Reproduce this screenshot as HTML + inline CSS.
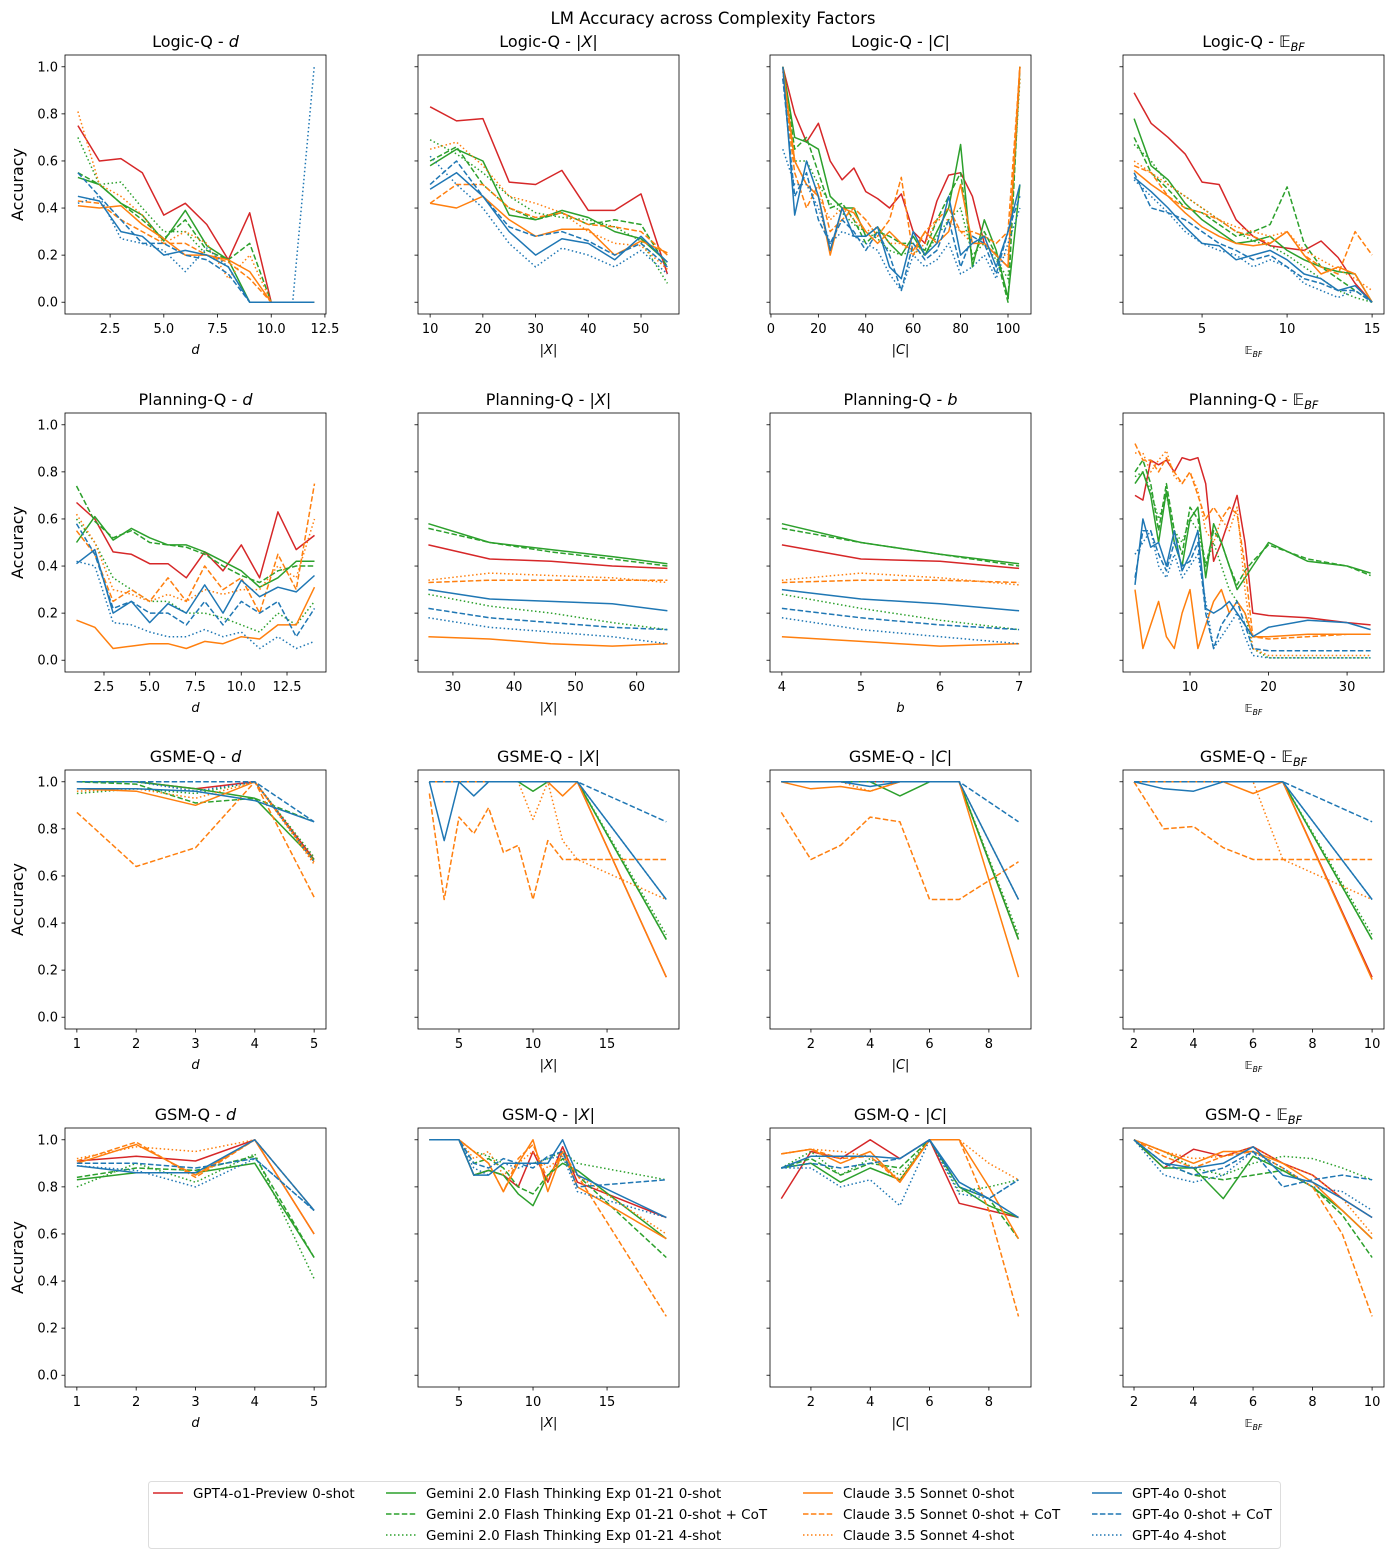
<!DOCTYPE html>
<html><head><meta charset="utf-8"><style>
body{margin:0;background:#fff}
svg text{font-family:"DejaVu Sans","Liberation Sans",sans-serif;fill:#000}
</style></head><body>
<svg id="chart" width="1393" height="1558" viewBox="0 0 1393 1558" xmlns="http://www.w3.org/2000/svg">
<rect width="1393" height="1558" fill="#fff"/>
<text x="713" y="24" font-size="16.5" text-anchor="middle">LM Accuracy across Complexity Factors</text>
<g id="panels"></g>
<g id="legend">
<rect x="148.5" y="1481.5" width="1132" height="67" fill="#fff" stroke="#ddd" stroke-width="1" rx="3"/>
</g>
</svg>
<script>
const seriesNames=["GPT4-o1-Preview 0-shot","Gemini 2.0 Flash Thinking Exp 01-21 0-shot","Gemini 2.0 Flash Thinking Exp 01-21 0-shot + CoT","Gemini 2.0 Flash Thinking Exp 01-21 4-shot","Claude 3.5 Sonnet 0-shot","Claude 3.5 Sonnet 0-shot + CoT","Claude 3.5 Sonnet 4-shot","GPT-4o 0-shot","GPT-4o 0-shot + CoT","GPT-4o 4-shot"];
const rowNames=["Logic-Q","Planning-Q","GSME-Q","GSM-Q"];
const yTicks=[0,0.2,0.4,0.6,0.8,1.0];
const yTickLabels=["0.0","0.2","0.4","0.6","0.8","1.0"];

const logicD_x=[1,2,3,4,5,6,7,8,9,10,11,12];
const logicD_y=[[.75,.60,.61,.55,.37,.42,.33,.18,.38,0,0,0],[.53,.50,.42,.37,.26,.39,.24,.18,0,0,0,0],[.55,.50,.42,.35,.27,.35,.22,.18,.25,0,0,0],[.70,.50,.51,.40,.30,.30,.20,.15,0,0,0,0],[.41,.40,.41,.33,.27,.20,.20,.18,.13,0,0,0],[.43,.42,.35,.30,.25,.25,.20,.17,.10,0,0,0],[.81,.50,.45,.37,.25,.30,.25,.10,.20,0,0,0],[.45,.43,.30,.28,.20,.22,.20,.15,0,0,0,0],[.55,.45,.35,.25,.25,.20,.18,.12,0,0,0,0],[.42,.45,.27,.25,.22,.13,.23,.15,0,0,0,1.0]];
const logicX_x=[10,15,20,25,30,35,40,45,50,55];
const logicX_y=[[.83,.77,.78,.51,.50,.56,.39,.39,.46,.12],[.58,.65,.60,.37,.35,.39,.36,.30,.27,.17],[.60,.66,.50,.40,.35,.38,.33,.35,.33,.15],[.69,.63,.55,.45,.38,.36,.35,.32,.26,.08],[.42,.40,.45,.35,.28,.31,.31,.20,.26,.21],[.42,.50,.50,.40,.36,.38,.33,.32,.30,.20],[.65,.68,.58,.45,.42,.38,.30,.25,.24,.14],[.48,.55,.45,.30,.20,.27,.25,.18,.28,.17],[.50,.60,.45,.32,.28,.30,.26,.20,.25,.15],[.62,.50,.40,.25,.15,.23,.20,.15,.22,.12]];
const logicC_x=[5,10,15,20,25,30,35,40,45,50,55,60,65,70,75,80,85,90,95,100,105];
const logicC_y=[[1.0,.80,.68,.76,.60,.52,.57,.47,.44,.40,.46,.30,.25,.43,.54,.55,.45,.25,.20,.15,1.0],[1.0,.70,.68,.65,.45,.40,.40,.28,.32,.25,.20,.28,.20,.30,.40,.67,.15,.35,.22,.02,.50],[1.0,.65,.70,.55,.40,.42,.35,.25,.30,.28,.25,.25,.22,.35,.45,.55,.18,.30,.20,0,1.0],[.95,.60,.60,.50,.42,.38,.33,.30,.27,.22,.20,.22,.20,.28,.35,.40,.20,.25,.18,.10,.95],[1.0,.60,.50,.45,.20,.40,.38,.30,.25,.30,.25,.22,.30,.25,.30,.50,.25,.25,.20,.15,1.0],[.95,.55,.40,.50,.30,.35,.40,.35,.28,.35,.53,.20,.30,.35,.40,.30,.30,.28,.25,.30,1.0],[.98,.60,.50,.45,.35,.40,.35,.30,.32,.25,.25,.20,.25,.35,.35,.30,.25,.25,.20,.20,.95],[1.0,.37,.60,.45,.22,.40,.28,.28,.32,.15,.10,.30,.20,.25,.45,.20,.25,.28,.15,.30,.50],[.95,.45,.55,.35,.25,.35,.30,.22,.30,.20,.05,.25,.18,.22,.35,.15,.28,.25,.12,.30,.45],[.65,.50,.50,.40,.25,.30,.28,.25,.22,.12,.05,.20,.15,.18,.25,.12,.15,.20,.10,.25,.40]];
const logicE_x=[1,2,3,4,5,6,7,8,9,10,11,12,13,14,15];
const logicE_y=[[.89,.76,.70,.63,.51,.50,.35,.28,.24,.23,.22,.26,.19,.08,0],[.78,.58,.52,.42,.35,.30,.25,.26,.28,.22,.18,.15,.13,.12,0],[.70,.55,.48,.40,.38,.33,.28,.30,.33,.49,.25,.15,.10,.05,0],[.67,.60,.50,.45,.40,.35,.30,.26,.24,.20,.15,.10,.05,.02,0],[.56,.50,.45,.38,.32,.28,.25,.24,.25,.30,.20,.12,.15,.12,0],[.58,.55,.45,.40,.38,.35,.30,.28,.25,.30,.20,.15,.12,.30,.20],[.60,.55,.50,.45,.40,.35,.32,.30,.28,.30,.22,.18,.14,.10,.05],[.53,.47,.40,.32,.25,.24,.18,.20,.22,.18,.12,.10,.05,.07,0],[.55,.40,.38,.35,.30,.25,.22,.18,.20,.15,.10,.08,.05,.05,0],[.52,.45,.38,.30,.25,.22,.20,.15,.18,.15,.08,.05,.02,.05,0]];

const planD_x=[1,2,3,4,5,6,7,8,9,10,11,12,13,14];
const planD_y=[[.67,.60,.46,.45,.41,.41,.35,.46,.38,.49,.35,.63,.47,.53],[.50,.61,.51,.56,.52,.49,.49,.46,.42,.38,.31,.35,.42,.42],[.74,.59,.52,.55,.50,.49,.48,.45,.40,.36,.33,.38,.40,.40],[.60,.50,.35,.30,.25,.25,.20,.20,.18,.15,.12,.20,.15,.25],[.17,.14,.05,.06,.07,.07,.05,.08,.07,.10,.09,.15,.15,.31],[.55,.45,.25,.30,.25,.35,.25,.40,.30,.35,.20,.45,.30,.75],[.62,.50,.30,.28,.25,.28,.25,.30,.28,.30,.30,.40,.35,.60],[.41,.47,.20,.25,.16,.24,.20,.32,.20,.34,.27,.31,.29,.36],[.58,.45,.22,.25,.20,.20,.15,.25,.15,.25,.20,.25,.10,.22],[.42,.40,.16,.15,.12,.10,.10,.13,.10,.12,.05,.10,.05,.08]];
const planX_x=[26,36,46,56,65];
const planX_y=[[.49,.43,.42,.40,.39],[.58,.50,.47,.44,.41],[.56,.50,.46,.43,.40],[.28,.23,.20,.16,.13],[.10,.09,.07,.06,.07],[.33,.34,.34,.34,.34],[.34,.37,.36,.35,.33],[.30,.26,.25,.24,.21],[.22,.18,.16,.14,.13],[.18,.14,.12,.10,.07]];
const planB_x=[4,5,6,7];
const planB_y=[[.49,.43,.42,.39],[.58,.50,.45,.41],[.56,.50,.45,.40],[.28,.22,.17,.13],[.10,.08,.06,.07],[.33,.34,.34,.33],[.34,.37,.35,.32],[.30,.26,.24,.21],[.22,.18,.15,.13],[.18,.13,.10,.07]];
const planE_x=[3,4,5,6,7,8,9,10,11,12,13,14,15,16,17,18,20,25,30,33];
const planE_y=[[.70,.68,.85,.83,.85,.80,.86,.85,.86,.75,.42,.50,.60,.70,.50,.20,.19,.18,.16,.15],[.75,.80,.70,.50,.72,.50,.40,.60,.65,.35,.58,.50,.40,.30,.35,.40,.50,.42,.40,.37],[.80,.85,.75,.55,.75,.55,.45,.65,.60,.40,.55,.50,.40,.32,.38,.42,.49,.43,.40,.36],[.78,.80,.72,.60,.70,.55,.50,.60,.55,.40,.50,.40,.30,.25,.20,.05,.01,.01,.01,.01],[.30,.05,.15,.25,.10,.05,.20,.30,.05,.15,.25,.30,.20,.25,.20,.10,.10,.11,.11,.11],[.92,.85,.85,.80,.86,.80,.75,.80,.70,.60,.65,.60,.65,.62,.40,.10,.09,.10,.11,.11],[.88,.88,.80,.85,.89,.78,.75,.80,.72,.55,.50,.60,.55,.65,.30,.05,.02,.02,.02,.02],[.32,.60,.48,.50,.40,.55,.38,.45,.55,.22,.20,.22,.25,.20,.15,.10,.14,.17,.16,.13],[.35,.55,.55,.45,.38,.50,.40,.42,.50,.20,.05,.15,.20,.25,.15,.05,.04,.04,.04,.04],[.45,.50,.55,.40,.35,.45,.35,.40,.45,.25,.05,.10,.15,.20,.10,.02,.01,.01,.01,.01]];

const gsmeD_x=[1,2,3,4,5];
const gsmeD_y=[[1,1,.97,1,.67],[1,1,.97,.93,.67],[1,.99,.91,.93,.83],[.95,.97,.95,1,.68],[.97,.96,.90,1,.66],[.87,.64,.72,1,.51],[.96,.97,.93,1,.65],[.97,.97,.96,.92,.83],[1,1,1,1,.83],[1,1,.96,1,.66]];
const gsmeX_x=[3,4,5,6,7,8,9,10,11,12,13,19];
const gsmeX_y=[[1,1,1,1,1,1,1,1,1,1,1,.17],[1,1,1,1,1,1,1,.96,1,1,1,.33],[1,1,1,1,1,1,1,1,1,1,1,.33],[1,1,1,1,1,1,1,1,1,1,1,.35],[1,1,1,1,1,1,1,1,1,.94,1,.17],[.95,.50,.85,.78,.89,.70,.73,.50,.75,.67,.67,.67],[1,1,1,1,1,1,1,.84,1,.75,.67,.50],[1,.75,1,.94,1,1,1,1,1,1,1,.50],[1,1,1,1,1,1,1,1,1,1,1,.83],[1,1,1,1,1,1,1,1,1,1,1,.50]];
const gsmeC_x=[1,2,3,4,5,6,7,9];
const gsmeC_y=[[1,1,1,1,1,1,1,.33],[1,1,1,1,.94,1,1,.33],[1,1,1,1,1,1,1,.33],[1,1,1,1,1,1,1,.35],[1,.97,.98,.96,1,1,1,.17],[.87,.67,.73,.85,.83,.50,.50,.66],[1,1,1,.96,1,1,1,.50],[1,1,1,.98,1,1,1,.50],[1,1,1,1,1,1,1,.83],[1,1,1,1,1,1,1,.50]];
const gsmeE_x=[2,3,4,5,6,7,10];
const gsmeE_y=[[1,1,1,1,1,1,.17],[1,1,1,1,1,1,.33],[1,1,1,1,1,1,.33],[1,1,1,1,1,1,.35],[1,1,1,1,.95,1,.16],[1,.80,.81,.72,.67,.67,.67],[1,1,1,1,1,.67,.50],[1,.97,.96,1,1,1,.50],[1,1,1,1,1,1,.83],[1,1,1,1,1,1,.50]];

const gsmD_x=[1,2,3,4,5];
const gsmD_y=[[.91,.93,.91,1,.60],[.83,.86,.86,.90,.50],[.84,.88,.87,.93,.50],[.80,.90,.82,.94,.41],[.90,.98,.85,1,.60],[.91,.99,.84,1,.70],[.92,.97,.95,1,.70],[.89,.86,.86,1,.70],[.90,.90,.88,.92,.70],[.89,.87,.80,.92,.70]];
const gsmX_x=[3,4,5,6,7,8,9,10,11,12,13,19];
const gsmX_y=[[1,1,1,.85,.87,.85,.80,.95,.82,.97,.82,.67],[1,1,1,.85,.87,.85,.77,.72,.85,.90,.87,.58],[1,1,1,.90,.92,.88,.80,.77,.85,.92,.85,.50],[1,1,1,.95,.93,.90,.90,.90,.92,.95,.90,.83],[1,1,1,.95,.90,.78,.90,1,.78,.95,.80,.58],[1,1,1,.95,.90,.78,.92,.98,.83,.95,.85,.25],[1,1,1,.92,.95,.85,.90,.95,.88,.93,.85,.60],[1,1,1,.85,.85,.90,.90,.90,.90,1,.85,.67],[1,1,1,.90,.88,.92,.90,.88,.93,.95,.80,.83],[1,1,1,.88,.85,.90,.88,.90,.92,.93,.78,.67]];
const gsmC_x=[1,2,3,4,5,6,7,8,9];
const gsmC_y=[[.75,.95,.92,1,.92,1,.73,.70,.67],[.88,.90,.82,.88,.83,1,.80,.72,.67],[.88,.92,.85,.90,.88,1,.80,.75,.58],[.88,.95,.85,.92,.85,1,.78,.80,.83],[.94,.96,.90,.95,.82,1,1,.80,.58],[.94,.96,.92,.93,.82,1,1,.70,.25],[.94,.96,.95,.93,.83,1,1,.90,.83],[.88,.93,.93,.93,.92,1,.82,.75,.67],[.88,.90,.88,.90,.92,1,.80,.75,.83],[.88,.88,.80,.83,.72,1,.77,.75,.83]];
const gsmE_x=[2,3,4,5,6,7,8,9,10];
const gsmE_y=[[1,.88,.96,.93,.97,.90,.85,.75,.67],[1,.88,.88,.75,.93,.87,.80,.70,.58],[1,.90,.85,.83,.85,.87,.80,.68,.50],[1,.95,.88,.85,.90,.93,.92,.88,.83],[1,.95,.90,.95,.95,.90,.82,.70,.58],[1,.93,.88,.93,.95,.88,.80,.60,.25],[1,.95,.92,.93,.97,.90,.85,.75,.60],[1,.90,.88,.90,.97,.85,.82,.75,.67],[1,.90,.85,.88,.95,.80,.83,.85,.83],[1,.85,.82,.85,.95,.88,.80,.78,.70]];

const xTicks_logicD=[2.5,5.0,7.5,10.0,12.5], xTicks_logicX=[10,20,30,40,50], xTicks_logicC=[0,20,40,60,80,100], xTicks_logicE=[5,10,15];
const xTicks_planD=[2.5,5.0,7.5,10.0,12.5], xTicks_planX=[30,40,50,60], xTicks_planB=[4,5,6,7], xTicks_planE=[10,20,30];
const xTicks_d=[1,2,3,4,5], xTicks_X=[5,10,15], xTicks_C=[2,4,6,8], xTicks_E=[2,4,6,8,10];

const colors=["#d62728","#2ca02c","#2ca02c","#2ca02c","#ff7f0e","#ff7f0e","#ff7f0e","#1f77b4","#1f77b4","#1f77b4"];
const dashes=["","","5.5,2.4","1.5,2.5","","5.5,2.4","1.5,2.5","","5.5,2.4","1.5,2.5"];
const lefts=[65,418,770,1123], tops=[55,413,770,1128], W=261, H=259;

const panels=[
 [0,0,"d",logicD_x,logicD_y,[0.4,12.55],xTicks_logicD,"d","logic-depth"],
 [0,1,"X",logicX_x,logicX_y,[7.7,57.2],xTicks_logicX,"X","logic-vars"],
 [0,2,"C",logicC_x,logicC_y,[-0.4,109.7],xTicks_logicC,"C","logic-clauses"],
 [0,3,"E",logicE_x,logicE_y,[0.35,15.7],xTicks_logicE,"E","logic-ebf"],
 [1,0,"d",planD_x,planD_y,[0.37,14.63],xTicks_planD,"d","planning-depth"],
 [1,1,"X",planX_x,planX_y,[24.3,66.9],xTicks_planX,"X","planning-vars"],
 [1,2,"b",planB_x,planB_y,[3.85,7.15],xTicks_planB,"b","planning-branch"],
 [1,3,"E",planE_x,planE_y,[1.47,34.7],xTicks_planE,"E","planning-ebf"],
 [2,0,"d",gsmeD_x,gsmeD_y,[0.8,5.2],xTicks_d,"d","gsme-depth"],
 [2,1,"X",gsmeX_x,gsmeX_y,[2.23,19.86],xTicks_X,"X","gsme-vars"],
 [2,2,"C",gsmeC_x,gsmeC_y,[0.62,9.42],xTicks_C,"C","gsme-clauses"],
 [2,3,"E",gsmeE_x,gsmeE_y,[1.63,10.4],xTicks_E,"E","gsme-ebf"],
 [3,0,"d",gsmD_x,gsmD_y,[0.8,5.2],xTicks_d,"d","gsm-depth"],
 [3,1,"X",gsmX_x,gsmX_y,[2.23,19.86],xTicks_X,"X","gsm-vars"],
 [3,2,"C",gsmC_x,gsmC_y,[0.62,9.42],xTicks_C,"C","gsm-clauses"],
 [3,3,"E",gsmE_x,gsmE_y,[1.63,10.4],xTicks_E,"E","gsm-ebf"]
];
const NS="http://www.w3.org/2000/svg";
const root=document.getElementById("panels");
function mk(tag,attrs,parent){const e=document.createElementNS(NS,tag);for(const k in attrs)e.setAttribute(k,attrs[k]);parent.appendChild(e);return e;}
function factorLabel(t,kind,fs){
  if(kind==="d"||kind==="b"){const s=mk("tspan",{"font-style":"italic"},t);s.textContent=kind;}
  else if(kind==="X"||kind==="C"){const a=mk("tspan",{},t);a.textContent="|";const b=mk("tspan",{"font-style":"italic"},t);b.textContent=kind;const c=mk("tspan",{},t);c.textContent="|";}
  else {const a=mk("tspan",{},t);a.textContent="𝔼";const b=mk("tspan",{"font-style":"italic","font-size":fs*0.7,dy:fs*0.25},t);b.textContent="BF";}
}
function fmt(v,ticks){return ticks.some(t=>!Number.isInteger(t))?v.toFixed(1):String(v);}
panels.forEach((p,pi)=>{
  const [r,c,kind,xs,ys,xl,xt,lab,nm]=p;
  const L=lefts[c],T=tops[r];
  const sx=v=>L+(v-xl[0])/(xl[1]-xl[0])*W;
  const sy=v=>T+H*(1.05-v)/1.1;
  const g=mk("g",{},root);
  
  
  const cp=mk("clipPath",{id:"cp"+pi},g);mk("rect",{x:L,y:T,width:W,height:H},cp);
  const title=mk("text",{x:L+W/2,y:T-8,"font-size":16,"text-anchor":"middle"},g);
  
  
  const t1=mk("tspan",{},title);t1.textContent=rowNames[r]+" - ";factorLabel(title,kind,16);
  yTicks.forEach((v,i)=>{
    mk("line",{x1:L-3.5,x2:L,y1:sy(v),y2:sy(v),stroke:"#000","stroke-width":0.8},g);
    if(c===0){const t=mk("text",{x:L-7,y:sy(v)+4.5,"font-size":13,"text-anchor":"end"},g);t.textContent=yTickLabels[i];
      
      }
  });
  if(c===0){const t=mk("text",{x:0,y:0,"font-size":16,"text-anchor":"middle",transform:`translate(23,${T+H/2}) rotate(-90)`},g);t.textContent="Accuracy";
    
    }
  xt.forEach(v=>{
    mk("line",{x1:sx(v),x2:sx(v),y1:T+H,y2:T+H+3.5,stroke:"#000","stroke-width":0.8},g);
    const t=mk("text",{x:sx(v),y:T+H+19,"font-size":13,"text-anchor":"middle"},g);t.textContent=fmt(v,xt);
    
    
  });
  const xt2=mk("text",{x:L+W/2,y:T+H+40,"font-size":kind==="E"?11:13,"text-anchor":"middle"},g);
  
  
  factorLabel(xt2,lab,kind==="E"?11:13);
  const lg=mk("g",{"clip-path":`url(#cp${pi})`},g);
  ys.forEach((s,si)=>{
    const d=s.map((v,i)=>(i?"L":"M")+sx(xs[i]).toFixed(1)+","+sy(v).toFixed(1)).join("");
    const path=mk("path",{d:d,fill:"none",stroke:colors[si],"stroke-width":1.5,"stroke-dasharray":dashes[si],"stroke-linejoin":"round"},lg);
    
    
  });
  mk("rect",{x:L,y:T,width:W,height:H,fill:"none",stroke:"#000","stroke-width":0.8},g);
});
const leg=document.getElementById("legend");
const legPos=[[153,1493],[386,1493],[386,1514],[386,1535],[803,1493],[803,1514],[803,1535],[1092,1493],[1092,1514],[1092,1535]];
seriesNames.forEach((n,i)=>{
  const [x,y]=legPos[i];
  const e=mk("g",{},leg);
  
  
  mk("line",{x1:x,x2:x+30,y1:y,y2:y,stroke:colors[i],"stroke-width":1.5,"stroke-dasharray":dashes[i]},e);
  const t=mk("text",{x:x+40,y:y+5,"font-size":13.5},e);t.textContent=n;
});
</script>
</body></html>
